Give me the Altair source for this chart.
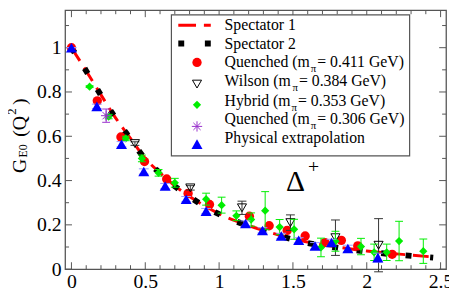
import altair as alt
import pandas as pd

# ---------------- data ----------------
spec_q2 = [0.0, 0.1, 0.2, 0.3, 0.4, 0.5, 0.6, 0.7, 0.8, 0.9, 1.0, 1.2, 1.4, 1.6, 1.8, 2.0, 2.2, 2.45]
spec1_g = [1.0, 0.895, 0.787, 0.682, 0.59, 0.5, 0.435, 0.376, 0.328, 0.286, 0.25, 0.197, 0.155, 0.122, 0.1, 0.082, 0.069, 0.055]
spec2_g = [1.0, 0.895, 0.785, 0.68, 0.588, 0.497, 0.433, 0.374, 0.327, 0.284, 0.248, 0.195, 0.152, 0.118, 0.097, 0.079, 0.066, 0.052]

q411_x = [0.0, 0.175, 0.335, 0.495, 0.645, 0.79, 0.935, 1.205, 1.339, 1.461, 1.583, 1.717, 1.828, 1.939, 2.172]
q411_y = [1.0, 0.76, 0.597, 0.486, 0.407, 0.342, 0.292, 0.239, 0.196, 0.175, 0.15, 0.12, 0.13, 0.105, 0.067]

wil_x = [0.43, 0.805, 1.155, 1.483, 1.788, 2.08]
wil_y = [0.567, 0.367, 0.277, 0.21, 0.142, 0.108]
wil_e = [0.008, 0.01, 0.03, 0.035, 0.08, 0.12]

hyb_x = [0.123, 0.252, 0.368, 0.477, 0.59, 0.70, 0.912, 1.017, 1.117, 1.217, 1.312, 1.41, 1.508,
         1.69, 1.788, 1.961, 2.05, 2.135, 2.219, 2.383]
hyb_y = [0.824, 0.689, 0.59, 0.5, 0.435, 0.39, 0.316, 0.289, 0.241, 0.224, 0.264, 0.19, 0.18,
         0.098, 0.126, 0.102, 0.076, 0.076, 0.127, 0.081]
hyb_e = [0.004, 0.01, 0.01, 0.015, 0.015, 0.02, 0.027, 0.036, 0.022, 0.03, 0.086, 0.034, 0.045,
         0.042, 0.045, 0.037, 0.037, 0.037, 0.089, 0.055]

q306_x = [0.235]
q306_y = [0.693]
q306_e = [0.03]

phy_x = [0.0, 0.172, 0.339, 0.49, 0.635, 0.777, 0.912, 1.179, 1.294, 1.421, 1.539, 1.65, 1.761, 1.872, 2.075]
phy_y = [1.0, 0.735, 0.564, 0.441, 0.375, 0.316, 0.262, 0.206, 0.175, 0.15, 0.13, 0.105, 0.12, 0.093, 0.052]
phy_e = [0.0, 0.01, 0.012, 0.012, 0.012, 0.012, 0.012, 0.012, 0.012, 0.012, 0.012, 0.015, 0.015, 0.015, 0.02]

x_labels = [0, 0.5, 1, 1.5, 2, 2.5]
y_labels = [0, 0.2, 0.4, 0.6, 0.8, 1]
x_minor = [i / 10 for i in range(26)]
y_minor = [i / 10 for i in range(12)]

legend_names = ["Spectator 1", "Spectator 2", "Quenched (m", "Wilson (m", "Hybrid (m",
                "Quenched (m", "Physical extrapolation"]
legend_tails = [None, None, "= 0.411 GeV)", "= 0.384 GeV)", "= 0.353 GeV)", "= 0.306 GeV)", None]

# ---------------- layout ----------------
W, H = 387, 263
FONT = "Liberation Serif"
RED, GREEN, BLUE, PURPLE = "#ff0000", "#00ee00", "#0000ff", "#9932cc"
FRAME = "#555555"

xs = alt.Scale(domain=[-0.043, 2.537], nice=False, zero=False)
ys = alt.Scale(domain=[0, 1.169], nice=False, zero=False)

one = pd.DataFrame({"a": [0]})

# Approximate Times / Liberation Serif advance widths (em)
CW = {" ": .25, "(": .333, ")": .333, "=": .564, ".": .25, "G": .722, "V": .722, "Q": .722,
      "W": .944, "H": .722, "P": .556, "S": .556, "a": .444, "b": .5, "c": .444, "d": .5,
      "e": .444, "h": .5, "i": .278, "l": .278, "m": .778, "n": .5, "o": .5, "p": .5, "r": .333,
      "s": .389, "t": .278, "u": .5, "x": .5, "y": .5, "π": .55}


def tw(s, fs):
    return sum(CW.get(c, .5) for c in s) * fs


def txt(t, x, y, fs, align="left", baseline="middle", angle=0, color="black"):
    return alt.Chart(one).mark_text(text=t, font=FONT, fontSize=fs, align=align, baseline=baseline,
                                    angle=angle, color=color).encode(x=alt.value(x), y=alt.value(y))


layers = []

# base with axes (labels only)
base_df = pd.DataFrame({"x": x_labels, "y": y_labels})
layers.append(
    alt.Chart(base_df).mark_point(opacity=0).encode(
        x=alt.X("x:Q", scale=xs, axis=alt.Axis(values=x_labels, format="~g", title=None, ticks=False,
                                                 domain=False, grid=False, labelFont=FONT, labelFontSize=20,
                                                 labelColor="black", labelPadding=3, labelFlush=False,
                                                 labelOverlap=False)),
        y=alt.Y("y:Q", scale=ys, axis=alt.Axis(values=y_labels, format="~g", title=None, ticks=False,
                                                 domain=False, grid=False, labelFont=FONT, labelFontSize=20,
                                                 labelColor="black", labelPadding=4, labelFlush=False,
                                                 labelOverlap=False)),
    )
)

# inward ticks on all four sides
xt = pd.DataFrame({"x": x_minor, "major": [abs(v * 2 - round(v * 2)) < 1e-9 for v in x_minor]})
yt = pd.DataFrame({"y": y_minor, "major": [abs(v * 5 - round(v * 5)) < 1e-9 for v in y_minor]})
for major, ln in [(True, 7), (False, 4)]:
    dx = xt[xt.major == major]
    dy = yt[yt.major == major]
    layers.append(alt.Chart(dx).mark_rule(color=FRAME, strokeWidth=1).encode(
        x=alt.X("x:Q", scale=xs), y=alt.value(H), y2=alt.value(H - ln)))
    layers.append(alt.Chart(dx).mark_rule(color=FRAME, strokeWidth=1).encode(
        x=alt.X("x:Q", scale=xs), y=alt.value(0), y2=alt.value(ln)))
    layers.append(alt.Chart(dy).mark_rule(color=FRAME, strokeWidth=1).encode(
        y=alt.Y("y:Q", scale=ys), x=alt.value(0), x2=alt.value(ln)))
    layers.append(alt.Chart(dy).mark_rule(color=FRAME, strokeWidth=1).encode(
        y=alt.Y("y:Q", scale=ys), x=alt.value(W), x2=alt.value(W - ln)))

# spectator curves
s1 = pd.DataFrame({"x": spec_q2, "y": spec1_g})
s2 = pd.DataFrame({"x": spec_q2, "y": spec2_g})
layers.append(alt.Chart(s1).mark_line(color=RED, strokeWidth=3, strokeDash=[16, 8], interpolate="monotone").encode(
    x=alt.X("x:Q", scale=xs), y=alt.Y("y:Q", scale=ys)))
layers.append(alt.Chart(s2).mark_line(color="black", strokeWidth=6, strokeDash=[6, 19], strokeCap="butt",
                                      interpolate="monotone").encode(
    x=alt.X("x:Q", scale=xs), y=alt.Y("y:Q", scale=ys)))


def errbars(xv, yv, ev, color, cap=64):
    d = pd.DataFrame({"x": xv, "lo": [a - b for a, b in zip(yv, ev)], "hi": [a + b for a, b in zip(yv, ev)]})
    out = [alt.Chart(d).mark_rule(color=color, strokeWidth=1).encode(
        x=alt.X("x:Q", scale=xs), y=alt.Y("lo:Q", scale=ys), y2="hi:Q")]
    for col in ["lo", "hi"]:
        out.append(alt.Chart(d).mark_point(shape="M-1,0L1,0", size=cap, stroke=color, strokeWidth=1,
                                           filled=False, opacity=1).encode(
            x=alt.X("x:Q", scale=xs), y=alt.Y(col + ":Q", scale=ys)))
    return out


def pts(xv, yv, **kw):
    d = pd.DataFrame({"x": xv, "y": yv})
    return alt.Chart(d).mark_point(opacity=1, **kw).encode(x=alt.X("x:Q", scale=xs), y=alt.Y("y:Q", scale=ys))


STAR = "M0,-1L0,1M-1,0L1,0M-0.7,-0.7L0.7,0.7M-0.7,0.7L0.7,-0.7"
S_CIRC, S_TRI_D, S_DIA, S_STAR, S_TRI_U = 90, 85, 70, 110, 125

# Quenched 0.411
layers.append(pts(q411_x, q411_y, shape="circle", size=S_CIRC, filled=True, color=RED))
# Wilson
layers += errbars(wil_x, wil_y, wil_e, "#333333", cap=81)
layers.append(pts(wil_x, wil_y, shape="triangle-down", size=S_TRI_D, filled=False, stroke="black", strokeWidth=1))
# Hybrid
layers += errbars(hyb_x, hyb_y, hyb_e, GREEN)
layers.append(pts(hyb_x, hyb_y, shape="diamond", size=S_DIA, filled=True, color=GREEN))
# Quenched 0.306
layers += errbars(q306_x, q306_y, q306_e, PURPLE)
layers.append(pts(q306_x, q306_y, shape=STAR, size=S_STAR, filled=False, stroke=PURPLE, strokeWidth=1))
# Physical extrapolation
layers += errbars(phy_x, phy_y, phy_e, "#9999ff", cap=100)
layers.append(pts(phy_x, phy_y, shape="triangle-up", size=S_TRI_U, filled=True, color=BLUE))

# Delta^+ annotation
ann = pd.DataFrame({"x": [1.517], "y": [0.391]})
layers.append(alt.Chart(ann).mark_text(text="Δ", font=FONT, fontSize=30, align="center", baseline="middle").encode(
    x=alt.X("x:Q", scale=xs), y=alt.Y("y:Q", scale=ys)))
ann2 = pd.DataFrame({"x": [1.639], "y": [0.46]})
layers.append(alt.Chart(ann2).mark_text(text="+", font=FONT, fontSize=20, align="center", baseline="middle").encode(
    x=alt.X("x:Q", scale=xs), y=alt.Y("y:Q", scale=ys)))

# ---------------- legend (drawn by hand) ----------------
layers.append(alt.Chart(one).mark_rect(fill="white", stroke=FRAME, strokeWidth=1.2).encode(
    x=alt.value(108), x2=alt.value(350), y=alt.value(4.7), y2=alt.value(148)))
row_y = [15, 34, 53, 72, 92, 111, 130]
sym_y = [15.3, 33.7, 53, 75, 96, 118, 136]
sym_x = 134
layers.append(alt.Chart(one).mark_rule(color=RED, strokeWidth=3, strokeDash=[18, 8]).encode(
    x=alt.value(115), x2=alt.value(148), y=alt.value(sym_y[0])))
layers.append(alt.Chart(one).mark_rule(color="black", strokeWidth=6, strokeDash=[6, 21], strokeCap="butt").encode(
    x=alt.value(115), x2=alt.value(148), y=alt.value(sym_y[1])))


def lsym(y, **kw):
    return alt.Chart(one).mark_point(opacity=1, **kw).encode(x=alt.value(sym_x), y=alt.value(y))


layers.append(lsym(sym_y[2], shape="circle", size=S_CIRC, filled=True, color=RED))
layers.append(lsym(sym_y[3], shape="triangle-down", size=S_TRI_D, filled=False, stroke="black", strokeWidth=1))
layers.append(lsym(sym_y[4], shape="diamond", size=S_DIA, filled=True, color=GREEN))
layers.append(lsym(sym_y[5], shape=STAR, size=S_STAR, filled=False, stroke=PURPLE, strokeWidth=1))
layers.append(lsym(sym_y[6], shape="triangle-up", size=S_TRI_U, filled=True, color=BLUE))

x0 = 162
for name, tail, yy in zip(legend_names, legend_tails, row_y):
    layers.append(txt(name, x0, yy, 16))
    if tail:
        xp = x0 + tw(name, 16) + 1
        layers.append(txt("π", xp, yy + 7, 11))
        layers.append(txt(" " + tail, xp + tw("π", 11) + 0.5, yy, 16))

# ---------------- y-axis title G_E0 (Q^2) ----------------
layers.append(txt("G", -46, 158, 20, align="center", angle=270))
layers.append(txt("E0", -43, 143, 12, align="center", angle=270))
layers.append(txt("(Q", -46, 118, 20, align="center", angle=270))
layers.append(txt("2", -54, 103, 13, align="center", angle=270))
layers.append(txt(")", -46, 93, 20, align="center", angle=270))

chart = alt.layer(*layers).properties(
    width=W, height=H,
    autosize=alt.AutoSizeParams(type="none"),
    padding={"left": 58, "top": 0, "right": 3, "bottom": 26},
).configure_view(stroke=FRAME, strokeWidth=1.3)

chart.save("out.html", embed_options={"renderer": "svg", "actions": False})
